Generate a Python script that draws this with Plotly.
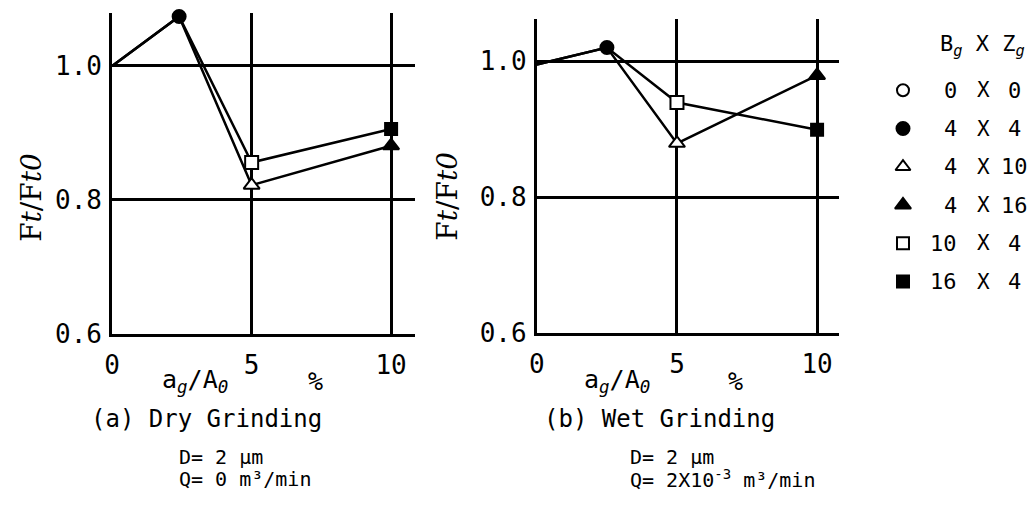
import plotly.graph_objects as go

W, H = 1031, 512

# ---- data: F_t / F_t0 against a_g / A_0 (%) ----
x_ticks = [0, 5, 10]
x_ticktext = ["0", "5", "10"]
y_ticks = [0.6, 0.8, 1.0]
y_ticktext = ["0.6", "0.8", "1.0"]

# (a) dry grinding
dry_x = [0, 2.4, 5, 10]
dry_square_path = [1.0, 1.074, 0.856, 0.906]      # 4X4 -> 10X4 -> 16X4
dry_triangle_path = [1.0, 1.074, 0.822, 0.881]    # 4X4 -> 4X10 -> 4X16

# (b) wet grinding
wet_x = [0, 2.5, 5, 10]
wet_square_path = [0.995, 1.020, 0.939, 0.899]
wet_triangle_path = [0.995, 1.020, 0.879, 0.979]

# legend: B_g X Z_g
bg_values = ["0", "4", "4", "4", "10", "16"]
zg_values = ["0", "4", "10", "16", "4", "4"]
legend_symbols = ["circle", "circle", "triangle-up", "triangle-up", "square", "square"]
legend_filled = [False, True, False, True, False, True]
legend_sizes = [12, 13, 13, 14, 12, 12]

MONO = "DejaVu Sans Mono"
SERIF = "DejaVu Serif"


def px_x(x):
    return x / W


def px_y(y):
    return 1 - y / H


def marker(symbol, filled, size):
    return dict(
        symbol=symbol,
        size=size,
        color="black" if filled else "white",
        line=dict(color="black", width=2),
    )


fig = go.Figure()


def add_panel(xs, sq, tri, xa, ya):
    for ys in (sq, tri):
        fig.add_trace(go.Scatter(x=xs, y=ys, mode="lines", xaxis=xa, yaxis=ya,
                                 line=dict(color="black", width=2.5),
                                 showlegend=False, hoverinfo="skip", cliponaxis=False))
    pts = [
        (xs[1], sq[1], marker("circle", True, 13)),
        (xs[2], sq[2], marker("square", False, 13)),
        (xs[2], tri[2], marker("triangle-up", False, 14)),
        (xs[3], sq[3], marker("square", True, 12)),
        (xs[3], tri[3], marker("triangle-up", True, 14)),
    ]
    for x, y, m in pts:
        fig.add_trace(go.Scatter(x=[x], y=[y], mode="markers", xaxis=xa, yaxis=ya,
                                 marker=m, showlegend=False, cliponaxis=False))


add_panel(dry_x, dry_square_path, dry_triangle_path, "x", "y")
add_panel(wet_x, wet_square_path, wet_triangle_path, "x2", "y2")

# legend keys on a hidden axis, one row per entry
for i in range(len(bg_values)):
    fig.add_trace(go.Scatter(x=[0], y=[i], mode="markers", xaxis="x3", yaxis="y3",
                             marker=marker(legend_symbols[i], legend_filled[i], legend_sizes[i]),
                             showlegend=False, cliponaxis=False))

axis_common = dict(
    showline=True, linecolor="black", linewidth=3, mirror=False,
    showgrid=True, gridcolor="black", gridwidth=2.5,
    zeroline=False, ticks="", fixedrange=True,
    tickfont=dict(family=MONO, size=26, color="black"),
)

fig.update_layout(
    width=W, height=H,
    margin=dict(l=0, r=0, t=0, b=0),
    paper_bgcolor="white", plot_bgcolor="white",
    showlegend=False,
    font=dict(family=MONO, color="black"),
    xaxis=dict(domain=[px_x(105), px_x(410)], range=[0, 10.85], anchor="y",
               tickvals=x_ticks, ticktext=x_ticktext, ticklabelstandoff=6, **axis_common),
    yaxis=dict(domain=[px_y(344), px_y(13)], range=[0.6, 1.0797], anchor="x",
               tickvals=y_ticks, ticktext=y_ticktext, ticklabelstandoff=2, **axis_common),
    xaxis2=dict(domain=[px_x(533), px_x(838)], range=[0, 10.8], anchor="y2",
                tickvals=x_ticks, ticktext=x_ticktext, ticklabelstandoff=6, **axis_common),
    yaxis2=dict(domain=[px_y(343), px_y(20)], range=[0.6, 1.0614], anchor="x2",
                tickvals=y_ticks, ticktext=y_ticktext, ticklabelstandoff=2, **axis_common),
    xaxis3=dict(domain=[px_x(892), px_x(912)], range=[-0.5, 0.5], anchor="y3", visible=False),
    yaxis3=dict(domain=[px_y(309.7), px_y(73.3)], range=[5.5, -0.5], anchor="x3", visible=False),
)

ann = []


def text(x, y, s, size, family=MONO, xanchor="center", angle=0, yref="paper", yval=None):
    ann.append(dict(
        x=px_x(x), y=px_y(y) if yval is None else yval, xref="paper", yref=yref,
        text=s, showarrow=False, xanchor=xanchor, yanchor="middle", textangle=angle,
        font=dict(family=family, size=size, color="black"),
    ))


# y-axis titles
text(23, 203, "F<i>t</i>/F<i>t0</i>", 28, family=SERIF, angle=-90)
text(443, 202, "F<i>t</i>/F<i>t0</i>", 28, family=SERIF, angle=-90)

# x-axis titles
for cx, pct in ((188, 310), (614, 733)):
    text(cx, 392, "a<sub><i>g</i></sub>/A<sub><i>0</i></sub>", 25)
    text(pct, 393, "<i>%</i>", 25)

# panel captions
text(200, 432, "(a) Dry Grinding", 24)
text(657, 432, "(b) Wet Grinding", 24)
text(170, 471, "D= 2 μm", 20, xanchor="left")
text(170, 493, "Q= 0 m³/min", 20, xanchor="left")
text(625, 471, "D= 2 μm", 20, xanchor="left")
text(625, 493, "Q= 2X10<sup>-3</sup> m³/min", 20, xanchor="left")

# legend title and rows
text(982, 47, "B<sub><i>g</i></sub> X Z<sub><i>g</i></sub>", 22)
for i, (bg, zg) in enumerate(zip(bg_values, zg_values)):
    text(958, 0, bg, 22, xanchor="right", yref="y3", yval=i)
    text(983, 0, "X", 21, yref="y3", yval=i)
    text(1014, 0, zg, 22, yref="y3", yval=i)

fig.update_layout(annotations=ann)

fig.write_html("out.html")
